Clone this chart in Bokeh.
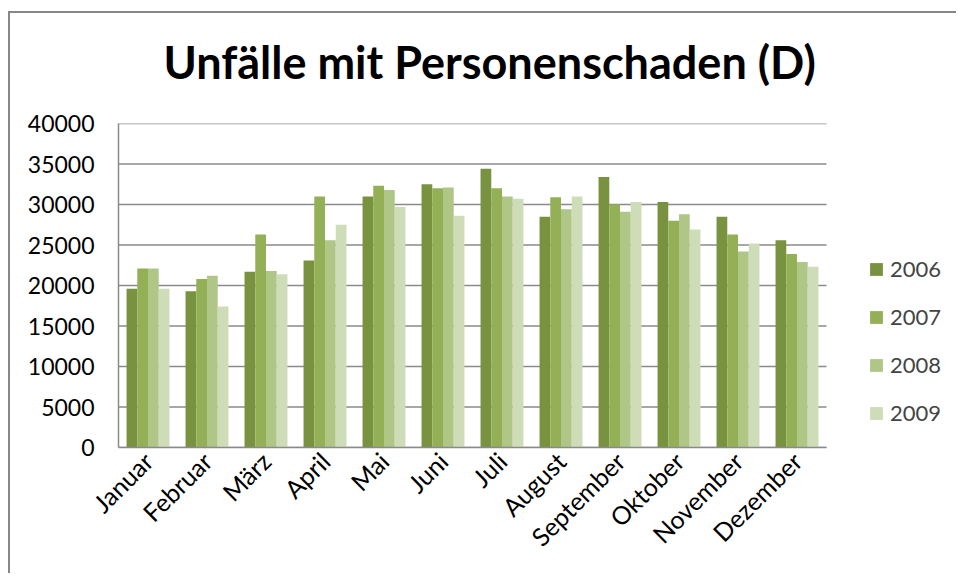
import math
from bokeh.plotting import figure
from bokeh.models import ColumnDataSource, Range1d, Legend, LegendItem, FixedTicker, LinearAxis
from bokeh.transform import dodge
from bokeh.embed import file_html
from bokeh.resources import INLINE

months = ["Januar", "Februar", "März", "April", "Mai", "Juni", "Juli",
          "August", "September", "Oktober", "November", "Dezember"]
years = ["2006", "2007", "2008", "2009"]
y2006 = [19600, 19300, 21700, 23100, 31000, 32500, 34400, 28500, 33400, 30300, 28500, 25600]
y2007 = [22100, 20800, 26300, 31000, 32300, 32000, 32000, 30900, 30000, 28000, 26300, 23900]
y2008 = [22100, 21200, 21800, 25600, 31800, 32100, 31000, 29400, 29100, 28800, 24200, 22900]
y2009 = [19600, 17400, 21400, 27500, 29700, 28600, 30700, 31000, 30300, 26900, 25200, 22300]
y_ticks = [0, 5000, 10000, 15000, 20000, 25000, 30000, 35000, 40000]

colors = ["#79923f", "#93b057", "#afc686", "#cfdcb8"]
GRID = "#8a8a8a"
FONT = "Lato"

n = len(months)
idx = list(range(n))
src = ColumnDataSource(dict(idx=idx, month=months, y2006=y2006, y2007=y2007,
                            y2008=y2008, y2009=y2009))

# category area is 708 px wide; the frame continues to the right to hold the legend
frame_px, cat_px = 840, 708
p = figure(x_range=Range1d(0, n * frame_px / cat_px), y_range=Range1d(0, 40000),
           width=948, height=562, output_backend="svg", toolbar_location=None,
           min_border_left=108, min_border_right=0, min_border_top=110, min_border_bottom=128,
           styles={"border-left": "2px solid #878787", "border-top": "2px solid #878787",
                   "margin-top": "11px", "margin-left": "8px"})

# horizontal gridlines, limited to the category area
p.segment(x0=0, x1=n, y0=y_ticks, y1=y_ticks, line_color=GRID, line_width=1.3)

bw = 1 / 5.5
offsets = [-1.5 * bw, -0.5 * bw, 0.5 * bw, 1.5 * bw]
items = []
for yr, col, off in zip(years, colors, offsets):
    r = p.vbar(x=dodge("idx", 0.5 + off), top="y" + yr, width=bw,
               source=src, fill_color=col, line_color=None)
    items.append(LegendItem(label=yr, renderers=[r]))

p.title.text = "Unfälle mit Personenschaden (D)"
p.title.text_font = FONT
p.title.text_font_size = "45px"
p.title.text_font_style = "bold"
p.title.text_color = "#000000"
p.title.align = "left"
p.title.offset = 45
p.title.standoff = 9

p.outline_line_color = None
p.xgrid.grid_line_color = None
p.ygrid.grid_line_color = None

xaxis = p.below[0]
yaxis = p.left[0]
yaxis.ticker = FixedTicker(ticks=y_ticks)
xaxis.ticker = FixedTicker(ticks=[i + 0.5 for i in idx])
xaxis.major_label_overrides = {i + 0.5: m for i, m in zip(idx, months)}
xaxis.bounds = (0, n)

for ax in (xaxis, yaxis):
    ax.axis_line_color = GRID
    ax.axis_line_width = 1.5
    ax.major_tick_line_color = None
    ax.minor_tick_line_color = None
    ax.major_tick_out = 0
    ax.major_tick_in = 0
    ax.major_label_text_font = FONT
    ax.major_label_text_color = "#000000"

yaxis.major_label_text_font_size = "23px"
yaxis.major_label_standoff = 24
xaxis.major_label_text_font_size = "25px"
xaxis.major_label_orientation = math.pi / 4
xaxis.major_label_standoff = 9

# invisible spacer between the title and the plot area: one hidden tick, 30 px long
spacer = LinearAxis(ticker=FixedTicker(ticks=[0]), axis_line_color=None,
                    major_tick_line_color=None, minor_tick_line_color=None,
                    major_tick_out=30, major_tick_in=0, minor_tick_out=0,
                    major_label_standoff=0, major_label_text_font_size="0px",
                    major_label_text_alpha=0, major_label_overrides={0: ""})
p.add_layout(spacer, "above")

legend = Legend(items=items, location=(750, 21), orientation="vertical",
                glyph_width=16, glyph_height=16, label_height=20, spacing=21,
                padding=0, margin=0, label_standoff=6,
                label_text_font=FONT, label_text_font_size="22px",
                border_line_color=None, background_fill_alpha=0)
p.add_layout(legend, "center")

open("out.html", "w").write(file_html(p, INLINE))
